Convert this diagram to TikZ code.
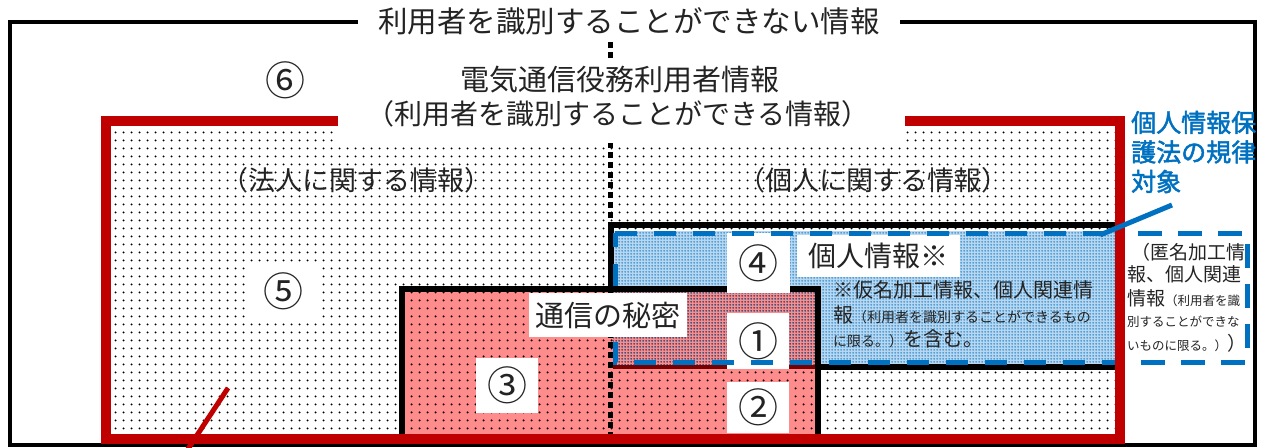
\documentclass[tikz,border=0pt]{standalone}
\usepackage{fontspec}
\newfontfamily\cjk[AutoFakeBold=2]{Noto Sans CJK JP}
\usetikzlibrary{patterns.meta}
\definecolor{myred}{RGB}{192,0,0}
\definecolor{mypink}{RGB}{255,140,140}
\definecolor{myblue}{RGB}{0,112,192}
\definecolor{lightblue}{RGB}{185,215,240}
\definecolor{darkred}{RGB}{120,0,0}
\definecolor{txt}{RGB}{35,35,35}
\tikzdeclarepattern{name=bigdots, type=uncolored,
  bounding box={(0pt,0pt) and (8pt,8pt)}, tile size={(8pt,8pt)},
  code={\pgfpathcircle{\pgfqpoint{4pt}{4pt}}{1.25pt}\pgfusepath{fill}}}
\tikzdeclarepattern{name=finetex, type=uncolored,
  bounding box={(0pt,0pt) and (3pt,3pt)}, tile size={(3pt,3pt)},
  code={\pgfpathcircle{\pgfqpoint{1.5pt}{1.5pt}}{1.2pt}\pgfusepath{fill}}}
\tikzset{
  fs/.style={font={\cjk\fontsize{#1}{#1}\selectfont}},
  lbl/.style={inner sep=0pt, text=txt},
  whitebox/.style={fill=white, inner sep=0pt, text=txt},
  blackline/.style={line width=6pt, line cap=rect},
  bluedash/.style={myblue, line width=5pt, dash pattern=on 22pt off 17pt},
}
\begin{document}
\begin{tikzpicture}[x=1pt,y=-1pt]
\useasboundingbox (0,0) rectangle (1263,447);
% outer frame
\draw[line width=4pt] (10,22) rectangle (1255,445);
% dotted area inside the red frame
\fill[white] (106,121) rectangle (1120,439);
\fill[pattern=bigdots, pattern color=black] (106,121) rectangle (1120,439);
% pink area (secret of communications)
\fill[mypink] (402,289) rectangle (818,439);
\fill[pattern=bigdots, pattern color=black] (402,289) rectangle (818,439);
% blue area (personal information)
\fill[lightblue] (613,231) rectangle (1117,365);
\fill[pattern=finetex, pattern color=myblue!80] (613,231) rectangle (1117,365);
% overlap (1)
\fill[mypink] (613,289) rectangle (818,365);
\fill[pattern=finetex, pattern color=myblue!60!black] (613,289) rectangle (818,365);
% dashed divider
\draw[line width=5pt, dash pattern=on 6pt off 4pt] (610,42) -- (610,447);
% black outlines
\draw[blackline] (402,439) -- (402,289) -- (818,289) -- (818,439);
\draw[blackline] (611,289) -- (611,225) -- (1117,225);
\draw[blackline] (818,367) -- (1117,367);
\draw[darkred, line width=4pt] (613,367) -- (815,367);
% white number boxes
\node[whitebox, minimum width=70pt, minimum height=58pt, fs=40] (n5) at (283,291) {⑤};
\node[whitebox, minimum width=62pt, minimum height=55pt, fs=40] (n3) at (507,385.5) {③};
\node[whitebox, minimum width=63pt, minimum height=60pt, fs=40] (n4) at (758.5,263) {④};
\node[whitebox, minimum width=62pt, minimum height=56pt, fs=40] (n1) at (758,341) {①};
\node[whitebox, minimum width=62pt, minimum height=51pt, fs=40] (n2) at (758,407.5) {②};
\node[whitebox, minimum width=163pt, minimum height=42pt, fs=28] (pinfo) at (878.5,256) {個人情報※};
% blue dashed frame of personal information
\draw[bluedash] (615,233) -- (1117,233) -- (1117,362) -- (615,362) -- cycle;
\node[whitebox, minimum width=158pt, minimum height=44pt, fs=29] (secret) at (608,315) {通信の秘密};
% red frame
\draw[myred, line width=10pt] (106,121) rectangle (1120,439);
% note in the blue area
\node[lbl, anchor=west, fs=20] (noteA) at (833,290) {※仮名加工情報、個人関連情};
\node[lbl, anchor=west, fs=20] (noteB) at (833,315) {報{\fontsize{14}{14}\selectfont（利用者を識別することができるもの}};
\node[lbl, anchor=west, fs=14] (noteC) at (833,339) {に限る。）{\fontsize{20}{20}\selectfont を含む。}};
% right dashed box
\draw[bluedash, dash pattern=on 24pt off 16pt] (1138,233) -- (1247,233) -- (1247,362) -- (1138,362);
\node[lbl, anchor=west, fs=19] (rA) at (1131,252) {（匿名加工情};
\node[lbl, anchor=west, fs=19] (rB) at (1127,274) {報、個人関連};
\node[lbl, anchor=west, fs=19] (rC) at (1127,298) {情報{\fontsize{12.5}{12.5}\selectfont（利用者を識}};
\node[lbl, anchor=west, fs=12.5] (rD) at (1127,322) {別することができな};
\node[lbl, anchor=west, fs=12.5] (rE) at (1127,343) {いものに限る。）{\fontsize{19}{19}\selectfont ）}};
% blue law label and connector
\node[inner sep=0pt, anchor=west, align=left, text=myblue, font={\cjk\bfseries\fontsize{25}{29.5}\selectfont}] (law) at (1131,152) {個人情報保\\護法の規律\\対象};
\coordinate (lawtip) at (1172,205);
\coordinate (lawend) at (1100,235);
\draw[myblue, line width=5pt] (lawtip) -- (lawend);
% red connector
\coordinate (redtip) at (228,388);
\coordinate (redend) at (186,452);
\draw[myred, line width=5pt] (redtip) -- (redend);
% region labels
\node[lbl, fs=27] (corp) at (356,180) {（法人に関する情報）};
\node[lbl, fs=27] (indiv) at (873,180) {（個人に関する情報）};
% top labels
\node[whitebox, minimum width=542pt, minimum height=38pt, fs=29.5] (title) at (629,21) {利用者を識別することができない情報};
\node[whitebox, minimum width=567pt, minimum height=83pt] (mainbox) at (621.5,101.5) {};
\node[lbl, fs=29] (mainA) at (620,80) {電気通信役務利用者情報};
\node[lbl, fs=28] (mainB) at (618,114) {（利用者を識別することができる情報）};
\node[lbl, fs=40] (n6) at (285,80) {⑥};
\end{tikzpicture}
\end{document}
